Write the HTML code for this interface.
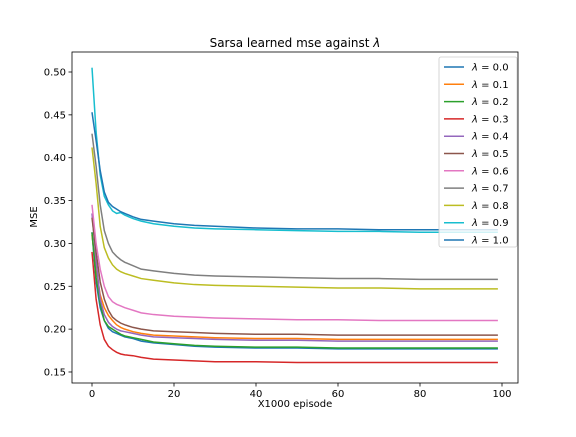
<!DOCTYPE html>
<html><head><meta charset="utf-8"><style>
body{margin:0;background:#fff;font-family:"Liberation Sans","DejaVu Sans",sans-serif;}
svg text{font-family:"DejaVu Sans","Liberation Sans",sans-serif;}
</style></head><body>
<svg id="chart" width="576" height="432" xmlns="http://www.w3.org/2000/svg">
<rect width="576" height="432" fill="#fff"/>
<text x="295" y="47" font-size="12" text-anchor="middle">Sarsa learned mse against <tspan font-style="italic">λ</tspan></text>
<text x="295" y="407" font-size="10" text-anchor="middle">X1000 episode</text>
<text transform="translate(37,217) rotate(-90)" font-size="10" text-anchor="middle">MSE</text>
<g id="ticks"></g><g id="lines"></g>
<rect x="72" y="52" width="446" height="331" fill="none" stroke="#000" stroke-width="0.8"/>
<g id="legend"></g>
</svg>
<script>
const xs=[0,1,2,3,4,5,6,7,8,10,12,15,20,25,30,40,50,60,70,80,90,99];
const labels=["λ = 0.0","λ = 0.1","λ = 0.2","λ = 0.3","λ = 0.4","λ = 0.5","λ = 0.6","λ = 0.7","λ = 0.8","λ = 0.9","λ = 1.0"];
const colors=["#1f77b4","#ff7f0e","#2ca02c","#d62728","#9467bd","#8c564b","#e377c2","#7f7f7f","#bcbd22","#17becf","#1f77b4"];
const s00=[0.313,0.255,0.225,0.210,0.201,0.197,0.195,0.193,0.191,0.189,0.186,0.184,0.182,0.180,0.179,0.178,0.178,0.177,0.177,0.177,0.177,0.177];
const s01=[0.31,0.27,0.24,0.225,0.216,0.210,0.205,0.202,0.200,0.197,0.195,0.193,0.192,0.191,0.190,0.189,0.189,0.188,0.188,0.188,0.188,0.188];
const s02=[0.313,0.26,0.23,0.21,0.203,0.200,0.197,0.194,0.192,0.190,0.188,0.185,0.183,0.181,0.180,0.179,0.179,0.178,0.178,0.178,0.178,0.178];
const s03=[0.290,0.235,0.205,0.188,0.180,0.176,0.173,0.171,0.170,0.169,0.167,0.165,0.164,0.163,0.162,0.162,0.161,0.161,0.161,0.161,0.161,0.161];
const s04=[0.335,0.28,0.235,0.217,0.208,0.203,0.200,0.198,0.197,0.195,0.193,0.191,0.190,0.189,0.188,0.187,0.187,0.186,0.186,0.186,0.186,0.186];
const s05=[0.330,0.29,0.255,0.235,0.222,0.214,0.210,0.207,0.205,0.202,0.200,0.198,0.197,0.196,0.195,0.194,0.194,0.193,0.193,0.193,0.193,0.193];
const s06=[0.345,0.30,0.27,0.25,0.238,0.232,0.229,0.227,0.225,0.222,0.219,0.217,0.215,0.214,0.213,0.212,0.211,0.211,0.210,0.210,0.210,0.210];
const s07=[0.428,0.39,0.345,0.315,0.300,0.290,0.285,0.281,0.278,0.274,0.270,0.268,0.265,0.263,0.262,0.261,0.260,0.259,0.259,0.258,0.258,0.258];
const s08=[0.412,0.37,0.32,0.295,0.283,0.275,0.270,0.267,0.265,0.262,0.259,0.257,0.254,0.252,0.251,0.250,0.249,0.248,0.248,0.247,0.247,0.247];
const s09=[0.505,0.43,0.38,0.355,0.345,0.338,0.335,0.336,0.333,0.329,0.326,0.323,0.320,0.318,0.317,0.316,0.315,0.314,0.314,0.313,0.313,0.313];
const s10=[0.453,0.42,0.385,0.36,0.348,0.343,0.34,0.337,0.335,0.331,0.328,0.326,0.323,0.321,0.320,0.318,0.317,0.317,0.316,0.316,0.316,0.316];
const series=[s00,s01,s02,s03,s04,s05,s06,s07,s08,s09,s10];
const xTicks=[0,20,40,60,80,100];
const yTicks=[0.15,0.20,0.25,0.30,0.35,0.40,0.45,0.50];
const X=v=>92+v*4.1;
const Y=v=>72+(0.5-v)*857.1;
const NS="http://www.w3.org/2000/svg";
const tg=document.getElementById('ticks'),lg=document.getElementById('lines'),leg=document.getElementById('legend');
function mk(t,a,p){const e=document.createElementNS(NS,t);for(const k in a)e.setAttribute(k,a[k]);p.appendChild(e);return e;}
xTicks.forEach(t=>{
  const l=mk('line',{x1:X(t),x2:X(t),y1:383,y2:386.5,stroke:'#000','stroke-width':0.8},tg);
  
  
  const tx=mk('text',{x:X(t),y:397,'font-size':10,'text-anchor':'middle'},tg);tx.textContent=t;
  
  
});
yTicks.forEach(t=>{
  const l=mk('line',{x1:68.5,x2:72,y1:Y(t),y2:Y(t),stroke:'#000','stroke-width':0.8},tg);
  
  
  const tx=mk('text',{x:66,y:Y(t)+3.5,'font-size':10,'text-anchor':'end'},tg);tx.textContent=t.toFixed(2);
  
  
});
series.forEach((s,i)=>{
  const p=mk('polyline',{points:s.map((v,j)=>X(xs[j])+','+Y(v)).join(' '),fill:'none',stroke:colors[i],'stroke-width':1.5},lg);
  
  
});
const bx=mk('rect',{x:439,y:57,width:78,height:190,rx:2,fill:'#fff','fill-opacity':0.8,stroke:'#ccc','stroke-width':0.8},leg);


labels.forEach((lab,i)=>{
  const y=67+i*17.3;
  const g=mk('g',{},leg);
  
  
  mk('line',{x1:444,x2:464,y1:y,y2:y,stroke:colors[i],'stroke-width':1.5},g);
  const t=mk('text',{x:472,y:y+3.5,'font-size':10},g);
  t.innerHTML='<tspan font-style="italic">λ</tspan>'+lab.slice(1);
});
</script>
</body></html>
